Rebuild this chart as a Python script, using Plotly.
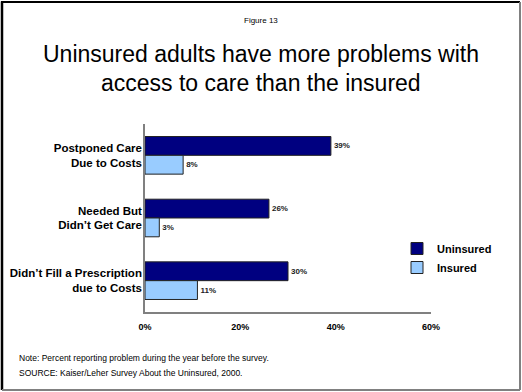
import plotly.graph_objects as go

# Survey results: percent of adults reporting each access problem
categories = [
    "Postponed Care<br>Due to Costs",
    "Needed But<br>Didn’t Get Care",
    "Didn’t Fill a Prescription<br>due to Costs",
]
uninsured = [39, 26, 30]
insured = [8, 3, 11]
tick_vals = [0, 20, 40, 60]
tick_text = ["0%", "20%", "40%", "60%"]

W, H = 522, 392
L, R, T, B = 145, 91, 124, 80
PW, PH = W - L - R, H - T - B


def px(x):
    return (x - L) / PW


def py(y):
    return (H - B - y) / PH


FONT = "Arial, Liberation Sans, sans-serif"

fig = go.Figure()
fig.add_trace(go.Bar(
    y=categories, x=uninsured, name="Uninsured", orientation="h",
    marker=dict(color="#000080", line=dict(color="#222222", width=1)),
    text=[f"{v}%" for v in uninsured], textposition="outside",
    textfont=dict(family=FONT, size=8, color="#222222", weight="bold"),
    cliponaxis=False,
))
fig.add_trace(go.Bar(
    y=categories, x=insured, name="Insured", orientation="h",
    marker=dict(color="#99CCFF", line=dict(color="#222222", width=1)),
    text=[f"{v}%" for v in insured], textposition="outside",
    textfont=dict(family=FONT, size=8, color="#222222", weight="bold"),
    cliponaxis=False,
))

fig.update_layout(
    width=W, height=H,
    margin=dict(l=L, r=R, t=T, b=B),
    paper_bgcolor="white", plot_bgcolor="white",
    barmode="group", bargap=0.4, bargroupgap=0,
    font=dict(family=FONT, color="black"),
    showlegend=True,
    legend=dict(
        x=px(397), y=py(234), xanchor="left", yanchor="top",
        font=dict(family=FONT, size=11, color="black", weight="bold"),
        bgcolor="rgba(0,0,0,0)", itemwidth=30, tracegroupgap=0,
    ),
    xaxis=dict(
        range=[0, 60], tickvals=tick_vals, ticktext=tick_text,
        showgrid=False, zeroline=False, showline=True, automargin=False,
        linecolor="#808080", linewidth=1.5, ticks="",
        tickfont=dict(family=FONT, size=9, color="black", weight="bold"),
        ticklabelstandoff=5,
    ),
    yaxis=dict(
        autorange="reversed", showgrid=False, zeroline=False,
        showline=True, automargin=False,
        linecolor="#808080", linewidth=1.5, ticks="",
        tickfont=dict(family=FONT, size=11.5, color="black", weight="bold"),
        ticklabelstandoff=-1,
    ),
)

# Headings and notes
fig.add_annotation(
    x=px(W / 2), xref="paper", xanchor="center", y=py(20), yref="paper",
    yanchor="middle", text="Figure 13", showarrow=False,
    font=dict(family=FONT, size=8, color="black"),
)
title_lines = [
    ("Uninsured adults have more problems with", 54),
    ("access to care than the insured", 83),
]
for txt, ypix in title_lines:
    fig.add_annotation(
        x=px(W / 2), xref="paper", xanchor="center", y=py(ypix), yref="paper",
        yanchor="middle", text=txt, showarrow=False,
        font=dict(family=FONT, size=23, color="black"),
    )
notes = [
    ("Note: Percent reporting problem during the year before the survey.", 358),
    ("SOURCE: Kaiser/Leher Survey About the Uninsured, 2000.", 373),
]
for txt, ypix in notes:
    fig.add_annotation(
        x=px(17), xref="paper", xanchor="left", y=py(ypix), yref="paper",
        yanchor="middle", align="left", text=txt, showarrow=False,
        font=dict(family=FONT, size=8.5, color="black"),
    )

# Slide frame
frame = [
    (2, 1.5, 2, 390, "black", 2.5),
    (1, 2, 520, 2, "black", 2),
    (520, 2, 520, 390, "#808080", 2),
    (2, 390, 520, 390, "#808080", 2),
]
for x0, y0, x1, y1, c, w in frame:
    fig.add_shape(type="line", xref="paper", yref="paper",
                  x0=px(x0), y0=py(y0), x1=px(x1), y1=py(y1),
                  line=dict(color=c, width=w))

fig.write_html("out.html")
